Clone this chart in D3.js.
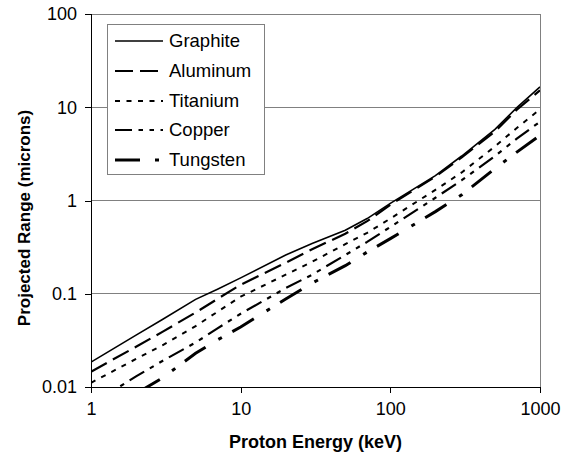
<!DOCTYPE html>
<html><head><meta charset="utf-8">
<script src="https://cdn.jsdelivr.net/npm/d3@7"></script>
<style>
html,body{margin:0;padding:0;background:#fff;}
svg{display:block;font-family:"Liberation Sans",Arial,sans-serif;}
</style></head>
<body>
<svg id="chart" width="563" height="453"></svg>
<script>
// ---- data ----
const energies = [1, 2, 3, 5, 7, 10, 20, 30, 50, 70, 100, 200, 300, 500, 700, 1000];
const graphite = [0.0185, 0.036, 0.053, 0.087, 0.112, 0.148, 0.26, 0.345, 0.48, 0.64, 0.93, 1.85, 3.0, 5.8, 9.9, 16.5];
const aluminum = [0.0146, 0.027, 0.039, 0.063, 0.088, 0.125, 0.215, 0.3, 0.44, 0.6, 0.9, 1.8, 2.9, 5.5, 9.4, 15.2];
const titanium = [0.0111, 0.02, 0.028, 0.045, 0.064, 0.093, 0.16, 0.22, 0.34, 0.45, 0.64, 1.3, 2.0, 3.8, 6.0, 9.5];
const copper   = [0.0065, 0.013, 0.019, 0.03, 0.0425, 0.061, 0.115, 0.16, 0.26, 0.36, 0.52, 1.07, 1.65, 3.0, 4.6, 7.0];
const tungsten = [0.0042, 0.0085, 0.0125, 0.023, 0.032, 0.044, 0.088, 0.13, 0.2, 0.28, 0.39, 0.76, 1.15, 2.2, 3.3, 5.0];
const seriesNames = ["Graphite", "Aluminum", "Titanium", "Copper", "Tungsten"];
const xTickValues = [1, 10, 100, 1000];
const xTickLabels = ["1", "10", "100", "1000"];
const yTickValues = [0.01, 0.1, 1, 10, 100];
const yTickLabels = ["0.01", "0.1", "1", "10", "100"];
const xTitle = "Proton Energy (keV)";
const yTitle = "Projected Range (microns)";

const seriesValues = [graphite, aluminum, titanium, copper, tungsten];
const styles = [
  {w: 1.6, dash: null},
  {w: 2.2, dash: "18,7"},
  {w: 2.0, dash: "5,6.5"},
  {w: 2.2, dash: "17,6.5,4.5,6.5,4.5,6.5"},
  {w: 3.0, dash: "25,15,4,12"}
];

const svg = d3.select("#chart");
const L = 91, R = 540, T = 14, B = 387;
const x = d3.scaleLog().domain([1, 1000]).range([L, R]);
const y = d3.scaleLog().domain([0.01, 100]).range([B, T]);

// gridlines
svg.append("g").selectAll("line").data(yTickValues.slice(1)).join("line")
  .attr("x1", L).attr("x2", R).attr("y1", d => y(d)).attr("y2", d => y(d))
  .attr("stroke", "#808080").attr("stroke-width", 1).attr("shape-rendering", "crispEdges");
// right border
svg.append("line").attr("x1", R).attr("x2", R).attr("y1", T).attr("y2", B)
  .attr("stroke", "#808080").attr("shape-rendering", "crispEdges");

// clip
svg.append("defs").append("clipPath").attr("id", "clip")
  .append("rect").attr("x", L).attr("y", T).attr("width", R - L).attr("height", B - T);

const line = d3.line().x(d => x(d[0])).y(d => y(d[1]));
const lines = svg.append("g").attr("clip-path", "url(#clip)");
seriesValues.forEach((vals, i) => {
  lines.append("path")
    .datum(energies.map((e, j) => [e, vals[j]]))
    .attr("d", line).attr("fill", "none").attr("stroke", "#000")
    .attr("stroke-width", styles[i].w)
    .attr("stroke-dasharray", styles[i].dash);
});

// axes
const yAxis = svg.append("g").attr("transform", `translate(${L},0)`)
  .call(d3.axisLeft(y).tickValues(yTickValues).tickSize(6).tickPadding(8)
    .tickFormat((d, i) => yTickLabels[i]));
const xAxis = svg.append("g").attr("transform", `translate(0,${B})`)
  .call(d3.axisBottom(x).tickValues(xTickValues).tickSize(6).tickPadding(9)
    .tickFormat((d, i) => xTickLabels[i]));
[yAxis, xAxis].forEach(g => {
  g.select(".domain").attr("stroke", "#000").attr("shape-rendering", "crispEdges");
  g.selectAll(".tick line").attr("stroke", "#000").attr("shape-rendering", "crispEdges");
  g.selectAll("text").attr("font-family", "Liberation Sans, Arial, sans-serif")
    .attr("font-size", 18).attr("fill", "#000");
});
yAxis.select(".domain").attr("d", `M0,${T}V${B}`);
xAxis.select(".domain").attr("d", `M${L},0H${R}`);

// titles
svg.append("text").attr("x", (L + R) / 2).attr("y", 448).attr("text-anchor", "middle")
  .attr("font-size", 18).attr("font-weight", "bold").text(xTitle);
svg.append("text").attr("transform", `translate(30,218) rotate(-90)`).attr("text-anchor", "middle")
  .attr("font-size", 17).attr("font-weight", "bold").text(yTitle);

// legend
const lg = svg.append("g");
lg.append("rect").attr("x", 107.5).attr("y", 24.5).attr("width", 157).attr("height", 150)
  .attr("fill", "#fff").attr("stroke", "#808080");
const ly = [41, 71, 101, 130, 160];
seriesNames.forEach((n, i) => {
  lg.append("line").attr("x1", 115).attr("x2", 163).attr("y1", ly[i]).attr("y2", ly[i])
    .attr("stroke", "#000").attr("stroke-width", styles[i].w)
    .attr("stroke-dasharray", styles[i].dash);
  lg.append("text").attr("x", 169).attr("y", ly[i]).attr("dy", "0.35em")
    .attr("font-size", 18.5).text(n);
});
</script>
</body></html>
